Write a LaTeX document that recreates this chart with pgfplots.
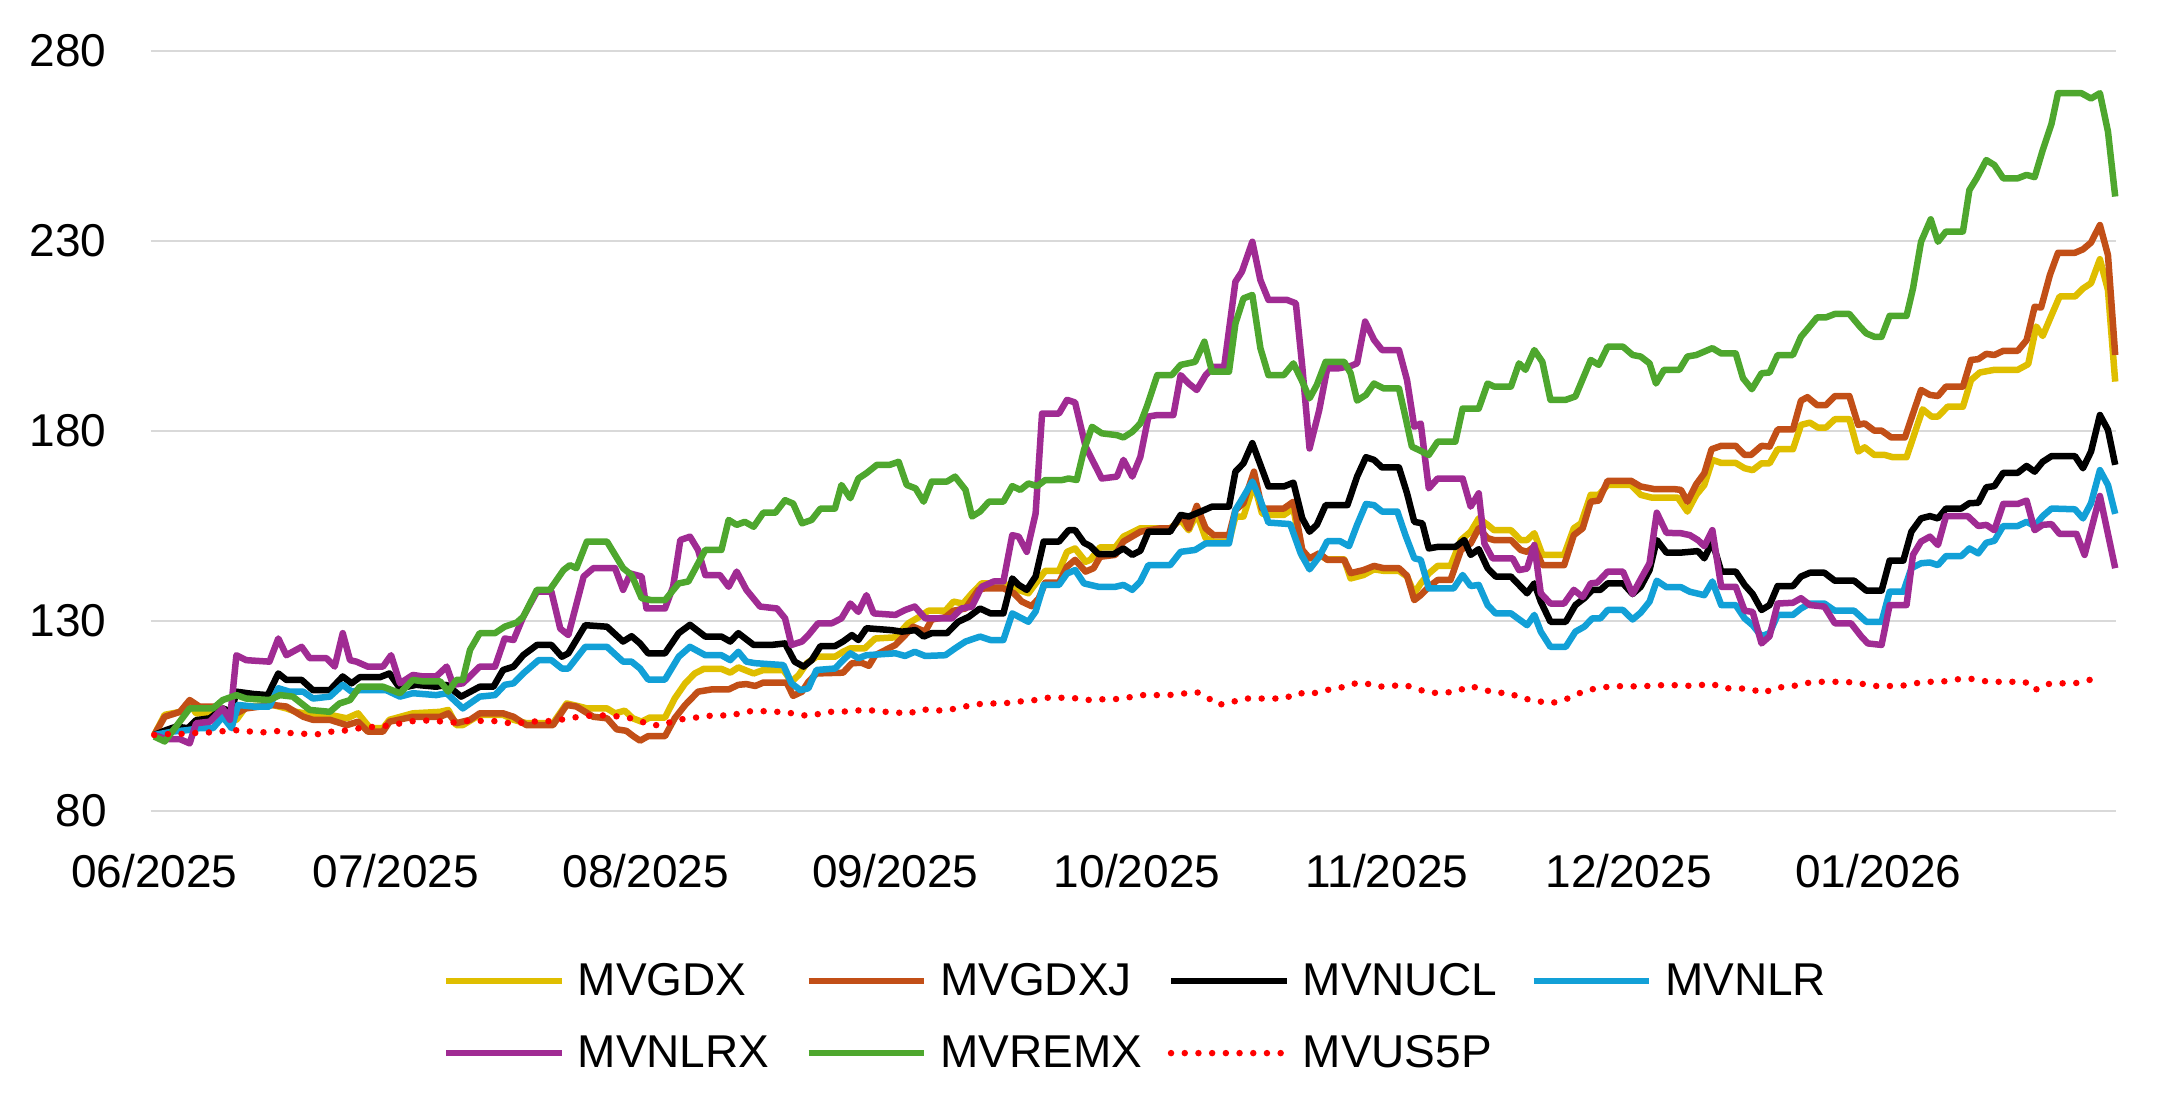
\documentclass[border=0pt]{standalone}
\usepackage{fontspec}
\setmainfont{Liberation Sans}
\usepackage{pgfplots}
\pgfplotsset{compat=1.18}
\definecolor{cYel}{HTML}{DFBE00}
\definecolor{cOra}{HTML}{C24F17}
\definecolor{cBlu}{HTML}{12A0D7}
\definecolor{cPur}{HTML}{A02B93}
\definecolor{cGre}{HTML}{4EA72E}
\definecolor{cRed}{HTML}{FF0000}
\definecolor{cGrid}{HTML}{D9D9D9}
\newcommand{\LE}[1]{\makebox[113.8pt][l]{#1}}
\begin{document}
\begin{tikzpicture}
\useasboundingbox (-75.5pt,-151.5pt) rectangle (1008pt,405.5pt);
\begin{axis}[
  at={(0pt,0pt)}, anchor=south west,
  scale only axis, width=982.5pt, height=380pt,
  xmin=-0.4, xmax=243.5, ymin=80, ymax=280,
  axis line style={draw=none},
  ytick={80,130,180,230,280},
  xtick={0,30,61,92,122,153,183,214},
  xticklabels={06/2025,07/2025,08/2025,09/2025,10/2025,11/2025,12/2025,01/2026},
  major tick length=0pt,
  ymajorgrids, major grid style={draw=cGrid, line width=1.2pt},
  tick label style={font=\fontsize{23}{27}\selectfont},
  /pgf/number format/assume math mode=true,
  yticklabel style={anchor=east, inner sep=0pt, xshift=-22pt},
  xticklabel style={anchor=base, inner sep=0pt, yshift=-38pt},
  clip=false,
  legend columns=4,
  legend cell align=left,
  legend style={at={(0.1485,-0.2711)}, anchor=west, draw=none, fill=none,
    inner sep=0pt, outer sep=0pt, font=\fontsize{23}{27}\selectfont,
    row sep=18.5pt, column sep=0pt,
    /tikz/every odd column/.append style={column sep=6.4pt},
    nodes={inner sep=0pt, anchor=west}},
  legend image code/.code={\draw[#1] (0pt,0pt) -- (57.8pt,0pt);},
  every axis plot/.append style={line width=3.25pt, line join=round},
]
% MVGDX
\addplot[cYel] coordinates {(0,100) (1.3,105.3) (3.2,106.1) (4.4,108.3) (5.2,105.7) (7.3,105.7) (8.5,107) (10.2,104) (11.4,107.5) (14.7,107.9) (16.4,107) (17.6,106.1) (19.7,105.3) (21.8,105.3) (23.9,104.4) (25.3,105.7) (26.8,101.8) (28.4,101.8) (29.2,104) (32.1,105.7) (35.5,106.1) (36.5,106.6) (37.5,102.6) (38.3,102.6) (40.4,105.3) (43.3,105.3) (44.6,104) (46.2,103.1) (49.5,103.1) (51.2,108.3) (52.8,107.5) (53.7,107) (56.2,107) (57.2,105.7) (58.4,106.4) (59.4,104.4) (60.5,103.5) (61.5,104.6) (63.4,104.6) (64.6,109.6) (65.9,113.6) (67.1,116.2) (68.2,117.4) (70.4,117.4) (71.5,116.4) (72.5,117.8) (74.4,116.2) (75.6,117.1) (78.1,117.1) (79.1,114) (80,115.8) (81,118.9) (82.2,120.6) (84.5,120.6) (85.5,121.9) (86.4,122.8) (88.2,122.8) (89.5,125.4) (92,125.7) (93.6,129.4) (94.9,131) (96.1,132.7) (98.2,132.7) (99.2,135.1) (100.4,134.6) (101.5,137.3) (102.7,139.9) (105.4,139.9) (106.7,138.6) (108.5,137.3) (109.6,140.4) (110.6,143.2) (112.3,143.2) (113.3,148.2) (114.3,149.1) (115.6,145.6) (116.2,146.1) (117.4,149.4) (119.3,149.4) (120.3,152.2) (122.4,154.4) (126.1,154.4) (127.4,156.6) (128.4,153.9) (129.4,158.3) (130.5,151.8) (131.5,150.9) (133.4,150.9) (134.2,157.5) (135.2,157.5) (136.5,166.2) (137.5,158.3) (138.3,157.9) (140.2,157.9) (141.4,159.6) (142.5,146.9) (143.4,146.5) (144.6,147.4) (145.6,146.2) (147.7,146.2) (148.5,141.2) (150.1,142.1) (151.4,143.6) (152.6,143.2) (154.5,143.2) (155.5,141.7) (156.4,137.3) (157.2,139.9) (158.2,142.5) (159.3,144.5) (160.9,144.5) (162.2,151.3) (163.4,153.5) (164.4,157) (165.5,155.3) (166.3,153.9) (168.4,153.9) (169.6,151.3) (170.4,151.3) (171.3,153.1) (172.3,147.4) (175,147.4) (176.2,154.4) (177.1,155.7) (178.3,163.2) (179.3,163.2) (180.4,165.8) (183.3,165.8) (184.5,163.2) (185.8,162.5) (189.1,162.5) (190.3,158.8) (191.4,163.2) (192.4,165.8) (193.4,172.4) (194.5,171.6) (196.3,171.6) (197.4,170.2) (198.4,169.7) (199.5,171.5) (200.5,171.5) (201.5,175.2) (203.4,175.2) (204.4,181.6) (205.5,182.2) (206.5,180.9) (207.5,180.9) (208.6,183.1) (210.4,183.1) (211.5,174.6) (212.3,175.7) (213.5,173.7) (214.8,173.7) (215.8,173.1) (217.5,173.1) (218.5,179.4) (219.5,185.7) (220.6,183.8) (221.4,183.8) (222.6,186.4) (224.5,186.4) (225.5,193.4) (226.6,195.4) (228.4,196.1) (231.3,196.1) (232.6,197.6) (233.6,207.5) (234.4,205) (235.5,210.5) (236.5,215.4) (238.4,215.4) (239.4,217.5) (240.4,218.9) (241.5,225.2) (242.5,217.1) (243.4,193)};
\addlegendentry{\LE{MVGDX}}
% MVGDXJ
\addplot[cOra] coordinates {(0,100) (1.3,104.8) (3.2,106.1) (4.4,109.2) (5.6,107.5) (7.3,107.5) (8.5,106.6) (10.2,105.7) (11.4,107) (14.7,107.9) (16.4,107.5) (18.5,104.8) (19.7,104) (21.8,104) (23.9,102.6) (25.3,103.5) (26.5,100.9) (28.4,100.9) (29.2,103.5) (32.1,104.8) (35.5,104.8) (36.5,105.7) (37.5,103.1) (39.2,104) (40.4,105.7) (43.3,105.7) (44.6,104.8) (46.2,102.6) (49.5,102.6) (51.2,107.9) (52.4,107.5) (54.5,104.8) (56.2,104.4) (57.4,101.5) (58.6,101.1) (59.4,99.8) (60.3,98.5) (61.3,99.7) (63.4,99.7) (64.6,104.4) (65.9,107.9) (67.5,111.4) (69.2,112) (71.3,112) (72.5,113.2) (73.5,113.4) (74.6,112.9) (75.6,113.8) (78.5,113.8) (79.3,110.3) (80.4,111.4) (81.2,114) (82.2,116.2) (85.5,116.4) (86.6,118.9) (87.8,119) (88.7,118.2) (89.5,121) (92,123.7) (93.2,126.3) (94.2,128.5) (95.7,127.2) (96.5,130.4) (98.2,131) (99.2,132.7) (100.7,133.3) (102.3,138.2) (103.1,138.6) (105.4,138.6) (106.7,137.3) (107.7,135.1) (108.9,133.9) (109.8,136) (110.6,140.1) (112.3,140.1) (113.3,144.3) (114.3,146.1) (115.6,143) (116.6,143.9) (117.4,146.9) (119.3,147.4) (120.3,150.9) (122.4,153.5) (124.9,154.4) (126.3,154.4) (127.6,157.9) (128.4,154.4) (129.4,160.3) (130.5,154.4) (131.5,152.6) (133.4,152.6) (134.2,159.2) (135.2,161) (136.5,169.3) (137.5,159.6) (140.2,159.6) (141.4,161.4) (142.5,148.7) (143.4,146.5) (144.6,147.8) (145.6,146.1) (147.7,146.1) (148.5,142.6) (150.1,143.4) (151.4,144.5) (152.6,143.9) (154.5,143.9) (155.5,141.9) (156.4,135.5) (157.2,136.8) (158.2,139) (159.3,140.8) (160.9,140.8) (162.2,148.7) (163.4,150.4) (164.4,154.4) (165.5,151.8) (166.3,151.3) (168.4,151.3) (169.6,148.7) (170.4,148.2) (171.3,149.6) (172.3,144.7) (175,144.7) (176.2,152.6) (177.3,154.4) (178.3,161.4) (179.3,161.7) (180.4,166.9) (183.3,166.9) (184.5,165.4) (186.2,164.7) (188.7,164.7) (189.5,164.5) (190.3,161.4) (191.4,166) (192.4,168.9) (193.3,175.2) (194.5,176.1) (196.3,176.1) (197.4,173.7) (198.2,173.7) (199.5,176.1) (200.5,175.9) (201.5,180.4) (203.4,180.4) (204.4,188) (205.2,188.9) (206.4,186.8) (207.5,186.8) (208.6,189.2) (210.4,189.2) (211.5,181.6) (212.3,182) (213.5,180.1) (214.4,180.1) (215.6,178.3) (217.3,178.3) (218.3,184.6) (219.3,190.8) (220.4,189.5) (221.4,189.2) (222.4,191.7) (224.5,191.7) (225.5,198.7) (226.4,198.9) (227.4,200.3) (228.4,200) (229.5,201.1) (231.3,201.1) (232.4,203.9) (233.4,212.7) (234.2,212.5) (235.3,221.1) (236.3,226.9) (238.4,226.9) (239.4,227.8) (240.4,229.6) (241.5,234.2) (242.5,226.3) (243.4,200)};
\addlegendentry{\LE{MVGDXJ}}
% MVNUCL
\addplot[black] coordinates {(0,100) (1.5,101.3) (2.7,102.2) (4.2,101.8) (5.2,103.9) (6.9,104.4) (8.5,107) (9.6,106.1) (10.2,111.4) (12.3,110.8) (14.1,110.5) (15.4,116.2) (16.4,114.5) (18.3,114.5) (19.7,111.8) (21.8,111.8) (23.4,115.4) (24.5,113.6) (25.5,115.2) (28,115.2) (29.2,116.2) (30.5,112.3) (32.5,113.2) (35,112.7) (36.3,113.2) (38.1,110.1) (40.4,112.7) (42.1,112.7) (43.3,117.1) (44.6,118) (45.8,121) (47.5,123.7) (49.3,123.7) (50.6,120.6) (51.4,121.5) (53.5,128.9) (56.2,128.5) (58.2,124.6) (59.25,126) (60.3,124.1) (61.3,121.5) (63.4,121.5) (65.1,126.8) (66.5,129) (68.4,125.9) (70.4,125.9) (71.5,124.6) (72.5,126.8) (74.4,123.7) (76.6,123.7) (78.3,124.1) (79.5,119.3) (80.6,118) (81.6,119.7) (82.7,123.4) (84.5,123.4) (85.5,124.6) (86.6,126.3) (87.4,125) (88.4,128.1) (91.5,127.6) (92.8,127.2) (94.5,127.6) (95.5,125.9) (96.5,126.8) (98.4,126.8) (99.8,129.8) (101.1,131.1) (102.5,133.3) (103.8,132) (105.4,132) (106.5,141.2) (107.3,139.5) (108.3,138.2) (109.4,141.7) (110.4,150.9) (112.3,150.9) (113.5,153.9) (114.3,153.9) (115.4,150.6) (116.2,149.7) (117.2,147.6) (119.1,147.6) (120.3,149.1) (121.4,147.4) (122.4,148.5) (123.4,153.5) (126.1,153.5) (127.4,157.9) (128.4,157.5) (129.9,158.8) (131.3,160.1) (133.4,160.1) (134.2,169.3) (135.2,171.5) (136.3,176.8) (137.3,171.1) (138.3,165.4) (140.2,165.4) (141.4,166.4) (142.5,157) (143.4,153.5) (144.3,155.3) (145.4,160.5) (148.1,160.5) (149.3,168) (150.4,173.1) (151.4,172.4) (152.4,170.4) (154.5,170.4) (155.5,163.6) (156.4,156.1) (157.4,155.7) (158.2,149.1) (159.3,149.5) (161.5,149.5) (162.6,151.3) (163.4,147.4) (164.4,148.9) (165.5,143.9) (166.5,141.7) (168.4,141.7) (170.4,137.3) (171.3,139.9) (172.1,135.1) (173.3,129.8) (175.2,129.8) (176.4,134.2) (177.5,136) (178.5,138.2) (179.5,138.2) (180.4,139.9) (182.3,139.9) (183.5,137.1) (184.5,139) (185.6,143.4) (186.5,151.3) (187.7,148) (189.5,148) (190.6,148.2) (191.6,148.4) (192.4,146.5) (193.4,150.9) (194.5,143) (196.3,143) (197.4,139.5) (198.4,137.1) (199.5,132.9) (200.5,134.2) (201.5,139.2) (203.4,139.2) (204.4,141.7) (205.5,142.7) (207.3,142.7) (208.6,140.6) (211,140.6) (212.5,138) (214.4,138) (215.4,145.9) (217.1,145.9) (218.1,153.5) (219.3,157) (220.4,157.6) (221.4,157) (222.4,159.6) (224.3,159.6) (225.3,161) (226.4,161.1) (227.4,165.2) (228.4,165.5) (229.5,169) (231.3,169) (232.4,170.8) (233.4,169.3) (234.4,171.9) (235.5,173.4) (238.4,173.4) (239.4,170.2) (240.4,174.6) (241.5,184.2) (242.5,180.3) (243.4,171.1)};
\addlegendentry{\LE{MVNUCL}}
% MVNLR
\addplot[cBlu] coordinates {(0,100) (2.3,100.9) (4.2,101.3) (5.6,101.8) (7.3,101.8) (8.5,104.8) (9.6,101.8) (10.4,107.9) (12.3,107.5) (14.3,107.5) (15.4,112.3) (16.8,111.4) (18.5,111.4) (19.7,109.6) (21.8,110.1) (23.4,113.2) (24.5,111.4) (25.5,111.8) (28.8,111.8) (30.5,110.1) (32.1,111) (35,110.5) (36.3,111) (38.3,107) (40.4,110.1) (42.3,110.5) (43.5,113.2) (44.6,113.6) (45.8,116.2) (47.7,119.7) (49.3,119.7) (50.6,117.5) (51.4,117.5) (53.5,123.2) (56.2,123.2) (58.2,119.3) (59.25,119.3) (60.3,117.5) (61.3,114.6) (63.4,114.6) (65.1,120.6) (66.5,123.2) (68.4,121) (70.4,121) (71.5,119.7) (72.5,121.9) (73.5,119.3) (74.6,118.9) (78.1,118.4) (79.1,113.6) (80.2,111.8) (81.2,112.3) (82.2,117.1) (84.5,117.5) (85.5,119.7) (86.4,121.5) (87.4,120.2) (88.4,121) (92,121.5) (93.2,120.8) (94.4,121.9) (95.7,120.8) (98.2,121) (99.4,122.8) (100.7,124.6) (102.5,125.9) (103.8,125) (105.4,125) (106.5,132) (108.5,129.8) (109.4,132.5) (110.4,139.5) (112.3,139.5) (113.3,142.5) (114.3,143.4) (115.4,139.9) (117.2,139) (119.3,139) (120.3,139.5) (121.4,138.2) (122.4,140.4) (123.4,144.7) (126.1,144.7) (127.4,148.2) (129.2,148.7) (130.5,150.4) (133.4,150.4) (134.2,159.2) (135.2,162.7) (136.3,166.7) (137.3,161.8) (138.3,155.9) (141,155.5) (142.3,147.8) (143.4,143.6) (144.6,146.9) (145.6,151) (147.2,151) (148.3,149.7) (149.3,155.3) (150.4,160.8) (151.4,160.5) (152.4,158.8) (154.3,158.8) (155.3,152.6) (156.4,146.5) (157.2,146.1) (158.2,138.6) (161.3,138.6) (162.4,142.1) (163.4,139.2) (164.4,139.5) (165.5,134.2) (166.5,132) (168.4,132) (170.4,128.9) (171.3,131.6) (172.1,127.2) (173.3,123.2) (175.2,123.2) (176.4,127.2) (177.5,128.5) (178.5,130.7) (179.5,130.7) (180.4,132.9) (182.3,132.9) (183.5,130.4) (184.5,132.2) (185.6,135.1) (186.5,140.6) (187.7,138.9) (189.5,138.9) (190.6,137.7) (192.4,136.8) (193.4,140.4) (194.5,134.2) (196.3,134.2) (197.4,130.7) (198.4,128.9) (199.5,126) (200.5,126.8) (201.5,131.6) (203.4,131.6) (204.4,133.3) (205.5,134.6) (207.3,134.6) (208.6,132.7) (211,132.7) (212.5,129.8) (214.4,129.8) (215.4,137.7) (217.1,137.7) (218.1,143.9) (219.3,145.2) (220.4,145.4) (221.4,144.7) (222.4,147.1) (224.3,147.1) (225.3,149.1) (226.4,147.8) (227.4,150.6) (228.4,151.1) (229.5,155) (231.3,155) (232.4,156.1) (233.4,155) (234.4,157.6) (235.5,159.6) (238.4,159.4) (239.4,157) (240.4,161) (241.5,169.7) (242.5,165.8) (243.4,158.2)};
\addlegendentry{\LE{MVNLR}}
% MVNLRX
\addplot[cPur] coordinates {(0,100) (1.5,98.9) (3.2,98.9) (4.4,97.8) (5.2,103.1) (6.9,103.5) (8.5,107) (9.4,104) (10.2,121) (11.4,119.7) (14.3,119.3) (15.4,125.4) (16.4,121) (18.3,123.2) (19.3,120.2) (21.4,120.2) (22.4,118) (23.4,126.8) (24.3,119.7) (25.1,119.3) (26.5,118) (28.4,118) (29.4,121) (30.5,113.6) (32.1,115.8) (33.4,115.4) (35,115.4) (36.3,118) (37.1,113.2) (38.3,113.6) (40.4,118) (42.3,118) (43.5,125.4) (44.6,125) (45.8,131.1) (47.5,137.7) (49.3,137.7) (50.4,128) (51.4,126.3) (53.3,141.7) (54.5,143.9) (57.2,143.9) (58.2,138.2) (59.1,142.5) (60.5,141.7) (61.1,133.3) (63.4,133.3) (64.4,139) (65.3,151.3) (66.5,152.2) (67.5,148.7) (68.4,142.1) (70.2,142.1) (71.3,139) (72.3,143) (73.5,138.2) (75.2,133.8) (77.3,133.3) (78.3,130.7) (79.1,123.7) (80.4,124.6) (81.2,126.3) (82.4,129.4) (84.1,129.4) (85.3,130.7) (86.4,134.6) (87.4,132.4) (88.4,136.8) (89.3,132) (92,131.6) (93.2,132.9) (94.4,133.8) (95.7,130.7) (99,130.7) (100.2,133.3) (101.5,133.8) (102.7,139) (104.2,140.4) (105.4,140.4) (106.5,152.6) (107.3,152.2) (108.3,148.2) (109.4,158.3) (110.2,184.6) (112.3,184.6) (113.3,188.2) (114.3,187.5) (115.6,175.9) (117.6,167.5) (119.5,168) (120.3,172.4) (121.4,168) (122.4,173.2) (123.4,183.8) (124.5,184.2) (126.5,184.2) (127.4,194.7) (128.4,192.5) (129.4,190.8) (130.5,194.7) (131.5,196.9) (132.8,196.9) (134.2,219.3) (135,221.9) (136.3,229.8) (137.3,219.7) (138.3,214.5) (140.6,214.5) (141.7,213.6) (142.5,196.9) (143.4,175.4) (144.6,185.5) (145.6,196.5) (147,196.5) (148.5,197.1) (149.3,197.8) (150.3,208.8) (151.4,204) (152.4,201.3) (154.5,201.3) (155.5,193.4) (156.4,181.1) (157.2,182) (158.2,164.9) (159.3,167.5) (162.4,167.5) (163.4,160.1) (164.4,163.6) (165.1,150.4) (166.1,146.5) (168.6,146.5) (169.4,143.4) (170.4,143.8) (171.3,150) (172.1,137.3) (173.3,134.6) (175,134.6) (176.2,138.2) (177.3,136.3) (178.3,139.9) (179.1,140.1) (180.4,143) (182.3,143) (183.5,137.1) (184.5,141) (185.6,145.2) (186.5,158.5) (187.7,153.2) (189.5,153.1) (190.6,152.6) (191.6,151.3) (192.4,149.7) (193.4,153.9) (194.5,139) (196.3,139) (197.4,132.7) (198.4,132.4) (199.5,124.1) (200.5,126) (201.5,134.6) (203.4,134.8) (204.4,136) (205.5,134.2) (207.3,133.8) (208.6,129.4) (210.6,129.4) (211.9,125.9) (212.7,124.1) (214.4,123.7) (215.4,134.2) (217.5,134.2) (218.3,147.4) (219.3,150.9) (220.4,152.2) (221.4,150) (222.4,157.6) (225.1,157.6) (226.4,155) (227.4,155.3) (228.4,153.9) (229.5,160.8) (231.3,160.8) (232.4,161.7) (233.4,153.9) (234.4,155.3) (235.5,155.5) (236.5,152.9) (238.6,152.9) (239.6,147.4) (241.5,162.9) (243.4,143.9)};
\addlegendentry{\LE{MVNLRX}}
% MVREMX
\addplot[cGre] coordinates {(0,99.6) (1.3,98.3) (2.7,102.2) (4.4,107) (7.3,107) (8.5,109.2) (10.2,110.5) (11.4,109.6) (14.3,109.2) (15.6,110.5) (17.2,110.1) (19.3,106.6) (21.8,106.1) (23,108.3) (24.3,109.2) (25.5,112.7) (28.4,112.7) (30.5,111) (32.1,114.5) (33.4,114.1) (35.5,114.1) (36.5,111.4) (37.5,114.5) (38.3,114.5) (39.2,122.4) (40.4,126.8) (42.3,126.8) (43.5,128.5) (45,129.6) (45.8,131.1) (47.5,138.2) (49.1,138.2) (50.8,143.4) (51.6,144.7) (52.4,143.9) (53.7,150.9) (56.2,150.9) (58.2,143.9) (59.25,142.1) (60.5,136) (61.7,135.5) (63.4,135.5) (65.1,139.9) (66.3,140.4) (68.4,148.7) (70.4,148.7) (71.3,156.6) (72.3,155.3) (73.3,156.1) (74.4,154.8) (75.6,158.5) (77.1,158.5) (78.3,161.8) (79.3,160.9) (80.4,155.7) (81.6,156.6) (82.7,159.6) (84.5,159.6) (85.3,165.8) (86.4,162.3) (87.4,167.5) (88.4,168.9) (89.7,171.1) (91.3,171.1) (92.4,171.9) (93.4,165.8) (94.5,164.9) (95.5,161.4) (96.5,166.7) (98.4,166.7) (99.4,168) (100.7,164.5) (101.5,157.5) (102.5,158.8) (103.6,161.4) (105.4,161.4) (106.5,165.5) (107.5,164.5) (108.5,166.2) (109.6,165.5) (110.6,167.1) (112.7,167.1) (113.5,167.5) (114.5,167.1) (115.4,175) (116.4,181.1) (117.6,179.4) (119.5,178.9) (120.3,178.3) (121.4,179.8) (122.4,182) (123.2,186.4) (124.5,194.7) (126.3,194.7) (127.4,197.4) (129.2,198.2) (130.35,203.5) (131.3,195.6) (133.4,195.6) (134.2,208.3) (135.2,214.9) (136.3,215.8) (137.3,201.8) (138.3,194.7) (140.2,194.7) (141.4,197.8) (142.5,193) (143.4,188.6) (144.3,192.1) (145.4,198.2) (147.7,198.2) (148.5,195.2) (149.3,188) (150.4,189.5) (151.4,192.5) (152.6,191.2) (154.5,191.2) (155.3,183.7) (156.1,175.9) (158.2,173.7) (159.3,177.2) (161.5,177.2) (162.4,185.9) (164.4,185.9) (165.5,192.5) (166.3,191.7) (168.4,191.7) (169.4,197.8) (170.2,196.1) (171.3,201.3) (172.3,198.2) (173.3,188.2) (175.2,188.2) (176.4,189.1) (178.3,198.7) (179.3,197.4) (180.4,202.2) (182.3,202.2) (183.5,200) (184.5,199.6) (185.6,197.8) (186.4,192.5) (187.4,196.1) (189.3,196.1) (190.3,199.6) (191.4,200) (193.4,201.8) (194.5,200.4) (196.3,200.4) (197.2,193.9) (198.3,191) (199.5,195.2) (200.5,195.4) (201.5,200) (203.4,200) (204.4,204.8) (205.2,206.8) (206.4,209.9) (207.5,209.9) (208.6,210.8) (210.4,210.8) (211.7,207.5) (212.5,205.7) (213.5,204.8) (214.4,204.8) (215.4,210.3) (217.5,210.3) (218.3,217.5) (219.3,229.8) (220.5,235.7) (221.4,229.8) (222.4,232.5) (224.5,232.5) (225.3,243.4) (226.2,246.5) (227.4,251.3) (228.4,250) (229.5,246.5) (231.3,246.5) (232.4,247.4) (233.4,246.8) (234.4,253.9) (235.5,260.9) (236.3,268.9) (239.2,268.9) (240.4,267.5) (241.5,268.9) (242.5,258.8) (243.4,241.7)};
\addlegendentry{\LE{MVREMX}}
% MVUS5P
\addplot[cRed, line cap=round, dash pattern=on 0pt off 6.85pt] coordinates {(0,100) (2,100.3) (3.8,100.3) (5.4,100.6) (7.2,100.7) (8.9,101.1) (10.6,101.3) (12.3,100.8) (13.9,100.7) (15.6,101.1) (17.2,100.4) (19,100.3) (20.7,100.2) (22.4,101.1) (24.1,101.2) (25.7,101.9) (27.5,102.2) (29.2,102.5) (30.9,103.2) (32.5,103.8) (34.3,103.8) (36,103.5) (37.7,103.2) (39.5,103.9) (41.2,103.6) (42.9,103.7) (44.6,102.8) (46.2,103.5) (48,103.6) (49.7,103.7) (51.4,104.4) (53.1,104.9) (54.8,105.2) (56.6,105.1) (58.3,104.7) (59.9,104.1) (61.5,102.6) (63.2,102.6) (64.6,103.9) (66.4,104.4) (68.1,104.8) (69.8,105.3) (71.5,105) (73.2,106.1) (74.9,106.4) (76.6,106.1) (78.3,106.1) (80,105.3) (81.6,105) (83.3,106.1) (84.9,106.1) (86.7,106.3) (88.4,106.7) (90.1,106.1) (91.8,106.1) (93.5,105.5) (95.2,106.8) (96.9,106.4) (98.6,106.6) (100.2,107.3) (102,108.1) (103.7,108.3) (105.4,108.3) (107.2,108.8) (108.9,109) (110.5,109.8) (112.3,109.8) (113.9,109.8) (115.7,109.2) (117.4,109.4) (119.1,109.4) (120.7,109.8) (122.5,110.5) (124.3,110.5) (125.9,110.5) (127.7,110.9) (129.4,111.3) (130.8,109.8) (132,107.9) (133.7,108.6) (135.2,109.6) (136.9,109.6) (138.5,109.6) (140.3,109.6) (141.9,111.1) (143.5,110.7) (145.2,111.8) (146.8,112.1) (148.5,113.4) (150.1,113.8) (151.8,112.7) (153.5,112.9) (155.2,113.2) (156.9,112) (158.4,111.1) (160.1,111.1) (161.7,111.5) (163.3,112.9) (164.8,112.1) (166.4,111.1) (168.2,111.1) (169.7,109.6) (171.4,109.2) (172.9,108.3) (174.5,108.8) (176,110.1) (177.7,111.8) (179.3,112.3) (181,112.9) (182.8,112.8) (184.5,112.8) (186.2,113) (187.9,113.2) (189.7,113) (191.4,112.9) (193.2,113.6) (194.8,112.3) (196.5,112.3) (198.2,112.1) (199.7,111) (201.3,112.5) (203.1,112.7) (204.8,113.6) (206.5,114) (208.2,114) (209.9,114) (211.7,113.6) (213.3,112.9) (215.1,112.9) (216.8,112.9) (218.5,113.6) (220.2,114) (221.8,114) (223.5,114.6) (225.2,114.9) (227,114.2) (228.6,114) (230.4,114) (232.2,114) (233.4,111.8) (234.9,113.4) (236.6,113.6) (238.4,113.6) (240.1,114.5) (241.8,114.5)};
\addlegendentry{\LE{MVUS5P}}
\end{axis}
\end{tikzpicture}
\end{document}
